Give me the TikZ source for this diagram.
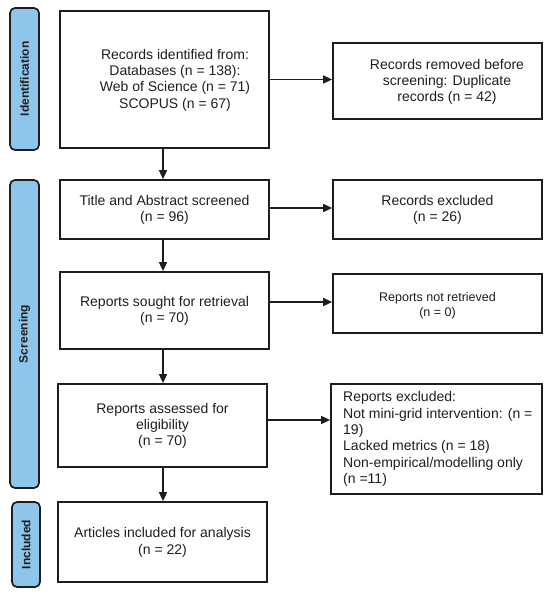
\documentclass[tikz,border=0pt]{standalone}
\usepackage{fontspec}
\setmainfont{Liberation Sans}
\usetikzlibrary{arrows.meta,calc}
\definecolor{sidefill}{RGB}{142,197,234}
\definecolor{linecol}{RGB}{30,30,30}
\begin{document}
\begin{tikzpicture}[x=1pt,y=-1pt,
 box/.style={draw=linecol,line width=1.7pt,rectangle,inner sep=0pt},
 txt/.style={align=center,font=\fontsize{14}{16.3}\selectfont,inner sep=0pt,text=linecol},
 small/.style={align=center,font=\fontsize{12.5}{15}\selectfont,inner sep=0pt,text=linecol},
 side/.style={draw=linecol,line width=1.7pt,fill=sidefill,rounded corners=5pt,inner sep=0pt,rotate=90,font=\fontsize{12}{14}\selectfont\bfseries,text=linecol},
 arr/.style={draw=linecol,line width=1.5pt,-{Triangle[length=9pt,width=8pt]}}]
\useasboundingbox (0,0) rectangle (550,596);
% side bars
\node[side,minimum width=142pt,minimum height=29pt] (sid) at (24.5,79) {Identification};
\node[side,minimum width=308pt,minimum height=29pt] (ssc) at (24.5,334) {Screening};
\node[side,minimum width=85pt,minimum height=28pt] (sin) at (26,544.5) {Included};
% main boxes
\node[box,minimum width=209pt,minimum height=137pt] (b1) at (164.5,79.5) {};
\node[txt] (t1) at (175,80) {Records identified from:\\Databases (n = 138):\\Web of Science (n = 71)\\SCOPUS (n = 67)};
\node[box,minimum width=209pt,minimum height=59pt] (b2) at (164.5,209.5) {};
\node[txt] (t2) at (164.5,210) {Title and Abstract screened\\(n = 96)};
\node[box,minimum width=209pt,minimum height=77pt] (b3) at (164.5,310.5) {};
\node[txt] (t3) at (164.5,311) {Reports sought for retrieval\\(n = 70)};
\node[box,minimum width=209pt,minimum height=83pt] (b4) at (162.5,425.5) {};
\node[txt] (t4) at (162.5,426) {Reports assessed for\\eligibility\\(n = 70)};
\node[box,minimum width=209pt,minimum height=80pt] (b5) at (162.5,542) {};
\node[txt] (t5) at (162.5,542.5) {Articles included for analysis\\(n = 22)};
% right boxes
\node[box,minimum width=209pt,minimum height=76pt] (r1) at (437.5,81) {};
\node[txt] (u1) at (447,82) {Records removed before\\screening: Duplicate\\records (n = 42)};
\node[box,minimum width=209pt,minimum height=59pt] (r2) at (437.5,209.5) {};
\node[txt] (u2) at (437.5,210) {Records excluded\\(n = 26)};
\node[box,minimum width=209pt,minimum height=59pt] (r3) at (437.5,303.5) {};
\node[small] (u3) at (437.5,305.5) {Reports not retrieved\\(n = 0)};
\node[box,minimum width=211pt,minimum height=110pt] (r4) at (436.5,439) {};
\node[txt,align=left,anchor=west] (u4) at (343,439) {Reports excluded:\\Not mini-grid intervention: (n =\\19)\\Lacked metrics (n = 18)\\Non-empirical/modelling only\\(n =11)};
% vertical arrows
\draw[arr] ([xshift=-1.5pt]b1.south) -- ([xshift=-1.5pt]b2.north);
\draw[arr] ([xshift=-1.5pt]b2.south) -- ([xshift=-1.5pt]b3.north);
\draw[arr] ([xshift=-1.5pt]b3.south) -- ([xshift=-1.5pt]b3.south |- b4.north);
\draw[arr] ([xshift=0.5pt]b4.south) -- ([xshift=0.5pt]b5.north);
% horizontal arrows
\draw[arr] (b1.east) -- (b1.east -| r1.west);
\draw[arr] ([yshift=1.5pt]b2.east) -- ([yshift=1.5pt]b2.east -| r2.west);
\draw[arr] ([yshift=1.5pt]r3.west -| b3.east) -- ([yshift=1.5pt]r3.west);
\draw[arr] ([yshift=5.5pt]b4.east) -- ([yshift=5.5pt]b4.east -| r4.west);
\end{tikzpicture}
\end{document}
